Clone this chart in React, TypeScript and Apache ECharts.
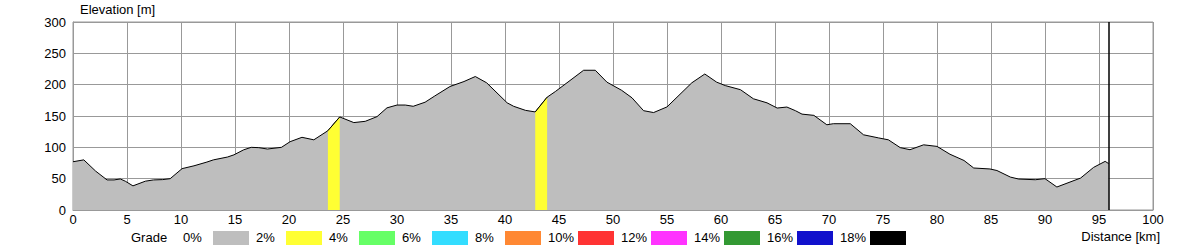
import React, { useEffect, useRef } from "react";
import * as echarts from "echarts";

const distanceKm = [
  0, 1.0, 2.1, 3.15, 3.8, 4.38, 4.84, 5.55, 6.7, 7.46, 8.3, 9.0, 10.1, 11.2, 12.4, 13.0, 14.3, 14.9,
  15.8, 16.5, 17.2, 18.0, 19.3, 20.1, 21.2, 22.3, 23.6, 24.7, 26.0, 27.06, 28.15, 29.07, 30.0, 30.77,
  31.5, 32.6, 33.5, 34.9, 36.2, 37.25, 38.3, 40.2, 40.8, 41.9, 42.8, 43.9, 44.66, 45.74, 47.28, 48.36,
  49.44, 50.8, 51.76, 52.83, 53.76, 55.0, 57.3, 58.5, 59.6, 60.4, 61.8, 63.0, 64.26, 65.2, 66.1, 66.9,
  67.5, 68.6, 69.8, 70.4, 71.97, 73.2, 74.6, 75.5, 76.6, 77.5, 78.76, 80.0, 81.2, 82.5, 83.4, 84.9,
  85.55, 86.8, 87.56, 89.1, 90.0, 91.1, 93.3, 94.5, 95.57, 95.9,
];
const elevationM = [
  77, 80, 62, 48, 48, 49.5, 46, 38.5, 46, 48, 48.5, 50, 66, 70.5, 76.5, 80, 84.5, 88,
  96, 100, 99.5, 97.3, 100, 109, 116, 112, 126.5, 148.5, 139.5, 141.5, 149, 163, 167.5, 167.5,
  165.5, 172, 182, 197, 205, 213, 203, 171, 165.5, 159, 156.5, 180, 189, 203, 223, 223,
  204, 191, 179, 158.5, 155.5, 164.5, 203, 217, 204, 198.5, 192, 177.5, 171, 162.7, 164.3, 158.4,
  153, 151, 136, 137.7, 137.7, 120, 115, 112, 99.5, 96.2, 104, 101.5, 89, 79, 67, 65.5,
  63, 52.5, 49.4, 48.3, 50, 36.7, 51, 68, 77.6, 74,
];
const routeEndKm = 95.9;
// sections with 2-4 % grade (start km, end km)
const steepSections = [
  [23.6, 24.7],
  [42.8, 43.9],
];
const gradeLabels = ["0%", "2%", "4%", "6%", "8%", "10%", "12%", "14%", "16%", "18%"];
const gradeColors = [
  "#bebebe", "#ffff33", "#66ff66", "#33ddff", "#ff8833",
  "#ff3333", "#ff33ff", "#339933", "#1111cc", "#000000",
];
const xTicks = { min: 0, max: 100, interval: 5 };
const yTicks = { min: 0, max: 300, interval: 50 };

const FONT = "'Liberation Sans', Arial, sans-serif";

export default function App() {
  const ref = useRef<HTMLDivElement>(null);
  useEffect(() => {
    if (!ref.current) return;
    const chart = echarts.init(ref.current, undefined, { renderer: "svg" });
    const profile = distanceKm.map((d, i) => [d, elevationM[i]]);

    const sectionSeries = steepSections.map(([a, b]) => ({
      type: "line",
      data: profile.filter(([d]) => d >= a - 1e-9 && d <= b + 1e-9),
      showSymbol: false,
      symbol: "none",
      lineStyle: { color: "#000", width: 1 },
      areaStyle: { color: gradeColors[1], opacity: 1 },
      z: 3,
      silent: true,
    }));

    const legendGraphics: any[] = [
      {
        type: "text",
        left: 131,
        top: 231,
        style: { text: "Grade", font: `13px ${FONT}`, fill: "#000" },
      },
    ];
    gradeLabels.forEach((lbl, i) => {
      const bx = 213 + 73 * i;
      legendGraphics.push({
        type: "text",
        left: bx - 30,
        top: 231,
        style: { text: lbl, font: `13px ${FONT}`, fill: "#000" },
      });
      legendGraphics.push({
        type: "rect",
        shape: { x: bx, y: 231, width: 36, height: 14 },
        style: { fill: gradeColors[i] },
      });
    });
    legendGraphics.push({
      type: "text",
      left: 80,
      top: 3,
      style: { text: "Elevation [m]", font: `13px ${FONT}`, fill: "#000" },
    });
    legendGraphics.push({
      type: "text",
      right: 40,
      top: 230,
      style: { text: "Distance [km]", font: `13px ${FONT}`, fill: "#000" },
    });

    chart.setOption({
      animation: false,
      grid: {
        left: 73,
        right: 47,
        top: 22,
        bottom: 40,
        show: true,
        borderColor: "#999",
        borderWidth: 1,
        backgroundColor: "transparent",
      },
      xAxis: {
        type: "value",
        min: xTicks.min,
        max: xTicks.max,
        interval: xTicks.interval,
        axisLine: { show: true, lineStyle: { color: "#999" } },
        axisTick: { show: false },
        axisLabel: { color: "#000", fontSize: 13, fontFamily: FONT, margin: 3 },
        splitLine: { show: true, lineStyle: { color: "#999", width: 1 } },
      },
      yAxis: {
        type: "value",
        min: yTicks.min,
        max: yTicks.max,
        interval: yTicks.interval,
        axisLine: { show: true, lineStyle: { color: "#999" } },
        axisTick: { show: false },
        axisLabel: {
          color: "#000",
          fontSize: 13,
          fontFamily: FONT,
          margin: 7,
          padding: [0, 0, 6, 0],
        },
        splitLine: { show: true, lineStyle: { color: "#999", width: 1 } },
      },
      series: [
        {
          type: "line",
          data: profile,
          showSymbol: false,
          symbol: "none",
          lineStyle: { color: "#000", width: 1 },
          areaStyle: { color: gradeColors[0], opacity: 1 },
          z: 2,
          silent: true,
          markLine: {
            silent: true,
            symbol: "none",
            label: { show: false },
            lineStyle: { color: "#000", width: 1.5, type: "solid" },
            data: [{ xAxis: routeEndKm }],
          },
        },
        ...sectionSeries,
      ],
      graphic: legendGraphics,
    });
    return () => chart.dispose();
  }, []);
  return (
    <div
      ref={ref}
      style={{ position: "fixed", left: 0, top: 0, width: 1200, height: 250, background: "#fff" }}
    />
  );
}
